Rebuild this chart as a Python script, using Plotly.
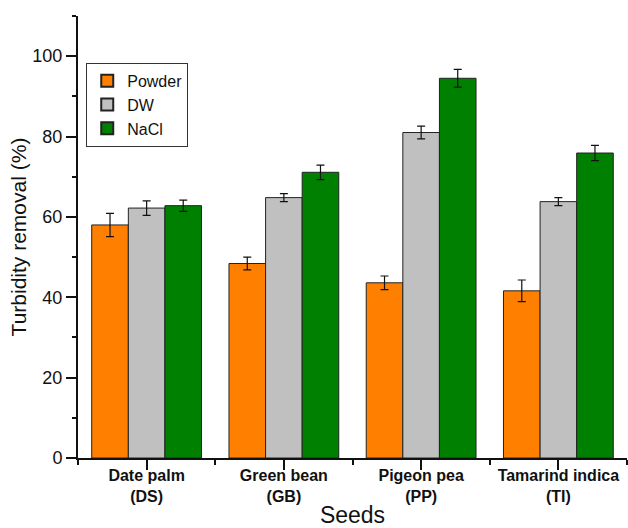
import plotly.graph_objects as go

# Seed types (x categories)
categories = ["Date palm<br>(DS)", "Green bean<br>(GB)", "Pigeon pea<br>(PP)", "Tamarind indica<br>(TI)"]

# Turbidity removal (%) per treatment, with standard deviations
powder = [58.0, 48.4, 43.6, 41.6]
powder_err = [2.9, 1.6, 1.7, 2.7]
dw = [62.2, 64.8, 81.0, 63.8]
dw_err = [1.8, 1.0, 1.6, 1.0]
nacl = [62.8, 71.1, 94.5, 75.9]
nacl_err = [1.4, 1.8, 2.2, 1.9]

series = [
    ("Powder", powder, powder_err, "#FF8000"),
    ("DW", dw, dw_err, "#C0C0C0"),
    ("NaCl", nacl, nacl_err, "#008000"),
]

x_pos = list(range(len(categories)))
font_family = "Arial, Liberation Sans, sans-serif"

fig = go.Figure()
for name, vals, errs, color in series:
    fig.add_trace(go.Bar(
        x=x_pos, y=vals, name=name,
        marker=dict(color=color, line=dict(color="#222222", width=1)),
        error_y=dict(type="data", array=errs, visible=True,
                     color="#111111", thickness=1.2, width=4),
    ))

fig.update_layout(
    width=628, height=528,
    margin=dict(l=78, r=1, t=16, b=70),
    paper_bgcolor="white", plot_bgcolor="white",
    barmode="group", bargap=0.2, bargroupgap=0,
    font=dict(family=font_family, color="#111111"),
    showlegend=True,
    legend=dict(
        x=0.015, y=0.894, xanchor="left", yanchor="top",
        bordercolor="#333333", borderwidth=1, bgcolor="white",
        font=dict(size=16, family=font_family),
        tracegroupgap=0, itemsizing="constant",
    ),
)

fig.update_xaxes(
    range=[-0.5, 3.5], automargin=False,
    tickmode="array", tickvals=x_pos, ticktext=categories,
    tickfont=dict(size=16, family=font_family, weight="bold"),
    ticks="outside", ticklen=10, tickwidth=1.5, tickcolor="#111111",
    ticklabelstandoff=-8,
    minor=dict(tickmode="array", tickvals=[-0.5, 0.5, 1.5, 2.5, 3.5],
               ticks="outside", ticklen=5, tickwidth=1.5, tickcolor="#111111"),
    showline=True, linecolor="#111111", linewidth=2,
    showgrid=False, zeroline=False,
    title=dict(text="Seeds", font=dict(size=23, family=font_family), standoff=13),
)

fig.update_yaxes(
    range=[0, 110], automargin=False,
    tickmode="linear", tick0=0, dtick=20,
    tickfont=dict(size=18, family=font_family),
    ticks="outside", ticklen=10, tickwidth=1.5, tickcolor="#111111",
    minor=dict(dtick=10, ticks="outside", ticklen=4, tickwidth=1.5, tickcolor="#111111"),
    showline=True, linecolor="#111111", linewidth=2,
    showgrid=False, zeroline=False,
    title=dict(text="Turbidity removal (%)", font=dict(size=21, family=font_family), standoff=0),
)

fig.write_html("out.html")
